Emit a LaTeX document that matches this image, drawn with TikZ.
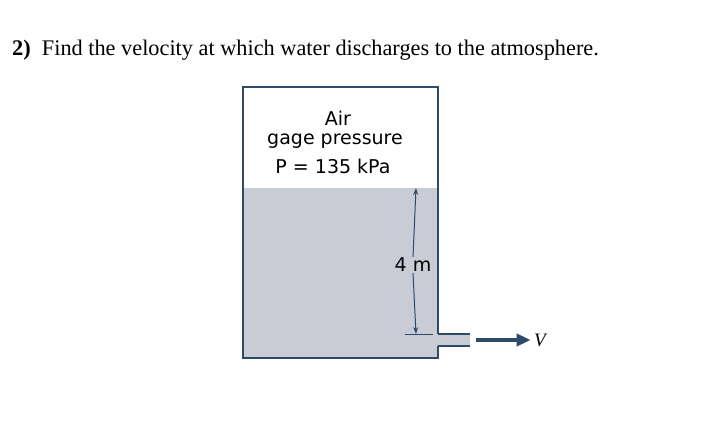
\documentclass[tikz,border=0pt]{standalone}
\usepackage{fontspec}
\setmainfont{Liberation Serif}
\newfontfamily\dv{DejaVu Sans}
\usetikzlibrary{arrows.meta}
\definecolor{ln}{HTML}{2E4A6B}
\definecolor{wat}{HTML}{C9CCD5}
\tikzset{wall/.style={draw=ln,line width=1.6pt},lbl/.style={font=\dv\fontsize{19}{22}\selectfont,inner sep=1pt}}
\begin{document}
\begin{tikzpicture}[x=1pt,y=-1pt]
\useasboundingbox (0,0) rectangle (714,435);
\node[anchor=west,font=\fontsize{22.3}{26}\selectfont,inner sep=0] (title) at (12,50) {\textbf{2)}\ \ Find the velocity at which water discharges to the atmosphere.};
\fill[wat] (243,188) rectangle (438,358);
\fill[wat] (438,334) rectangle (470,346);
\draw[wall] (438,334) -- (438,87) -- (243,87) -- (243,358) -- (438,358) -- (438,346);
\draw[ln,line width=1.2pt] (438,334) -- (470,334) (438,346) -- (470,346);
\node[lbl] (air) at (338,118) {Air};
\node[lbl] (gp) at (335,141) {gage pressure};
\node[lbl] (p) at (333,166) {P = 135 kPa};
\coordinate (top) at (416,188);
\coordinate (bot) at (416,334);
\draw[ln,line width=1pt] (405,334) -- (433,334);
\node[lbl,fill=wat] (dim) at (413,265) {4 m};
\draw[ln,line width=1pt,-{Stealth[length=7pt,width=5pt]}] (dim.north) -- (top);
\draw[ln,line width=1pt,-{Stealth[length=7pt,width=5pt]}] (dim.south) -- (bot);
\coordinate (a0) at (476,340);
\node[font=\itshape\fontsize{19}{22}\selectfont] (v) at (540,340) {V};
\draw[ln,line width=3.5pt,-{Triangle[length=14pt,width=12pt]}] (a0) -- (v.west);
\end{tikzpicture}
\end{document}
